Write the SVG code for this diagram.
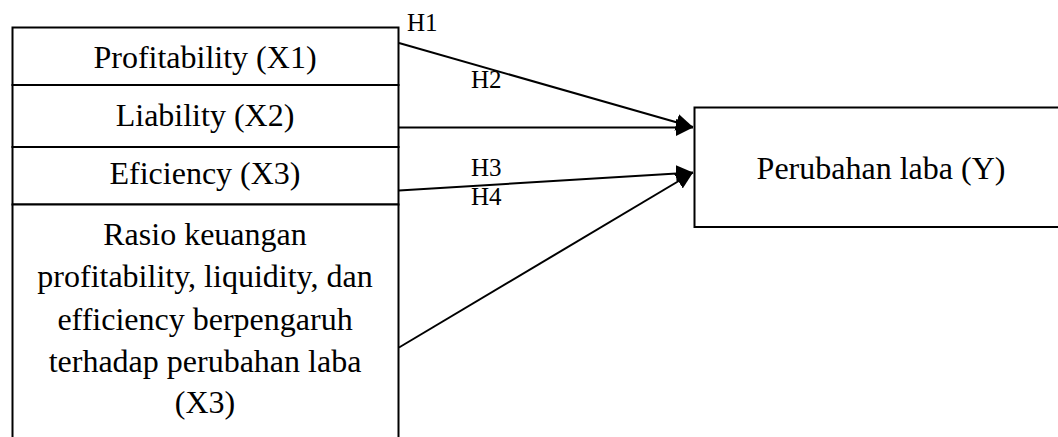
<svg xmlns="http://www.w3.org/2000/svg" width="1058" height="437" viewBox="0 0 1058 437">
  <style>
    .box { fill: #ffffff; stroke: #000000; stroke-width: 2; }
    .lbl { font-family: "Liberation Serif", "Times New Roman", serif; font-size: 32px; fill: #000000; text-anchor: middle; }
    .h { font-family: "Liberation Serif", "Times New Roman", serif; font-size: 25px; fill: #000000; }
    .conn { stroke: #000000; stroke-width: 2; fill: none; marker-end: url(#arrow); }
  </style>
  <defs>
    <marker id="arrow" markerUnits="userSpaceOnUse" markerWidth="18" markerHeight="18" refX="17" refY="9" orient="auto">
      <path d="M0,0.5 L17,9 L0,17.5 Z" fill="#000000"/>
    </marker>
  </defs>
  <rect x="0" y="0" width="1058" height="437" fill="#ffffff"/>

  <g id="node-x1">
    <rect class="box" x="12.5" y="27.5" width="386" height="57.5"/>
    <text class="lbl" x="205" y="68">Profitability (X1)</text>
  </g>
  <g id="node-x2">
    <rect class="box" x="12.5" y="85" width="386" height="62"/>
    <text class="lbl" x="205" y="126">Liability (X2)</text>
  </g>
  <g id="node-x3">
    <rect class="box" x="12.5" y="147" width="386" height="57.5"/>
    <text class="lbl" x="205" y="183.5">Eficiency (X3)</text>
  </g>
  <g id="node-x4">
    <rect class="box" x="12.5" y="204.5" width="386" height="250"/>
    <text class="lbl" x="205" y="245">Rasio keuangan</text>
    <text class="lbl" x="205" y="287">profitability, liquidity, dan</text>
    <text class="lbl" x="205" y="330">efficiency berpengaruh</text>
    <text class="lbl" x="205" y="372">terhadap perubahan laba</text>
    <text class="lbl" x="205" y="413">(X3)</text>
  </g>
  <g id="node-y">
    <rect class="box" x="694.5" y="107.5" width="380" height="119.5"/>
    <text class="lbl" x="881" y="179">Perubahan laba (Y)</text>
  </g>

  <g id="connectors">
    <line class="conn" x1="399" y1="43" x2="693" y2="127"/>
    <line class="conn" x1="399" y1="127.5" x2="693" y2="127.5"/>
    <line class="conn" x1="399" y1="190.5" x2="693" y2="172.5"/>
    <line class="conn" x1="399" y1="347.5" x2="693" y2="172.5"/>
    <text class="h" x="407" y="30.5">H1</text>
    <text class="h" x="471" y="88">H2</text>
    <text class="h" x="471" y="176">H3</text>
    <text class="h" x="471" y="205">H4</text>
  </g>
</svg>
